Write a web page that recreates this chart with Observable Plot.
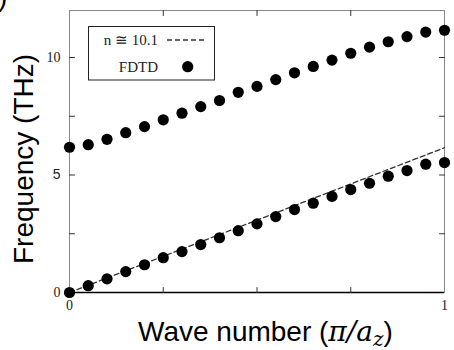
<!DOCTYPE html>
<html><head><meta charset="utf-8">
<script src="https://cdn.jsdelivr.net/npm/d3@7"></script>
<script src="https://cdn.jsdelivr.net/npm/@observablehq/plot@0.6"></script>
<style>body{margin:0;background:#fff}#chart{width:454px;height:350px}</style>
</head><body><div id="chart"></div>
<script>
// Wave number (π/a_z)
const waveNumber = [0, 0.05, 0.10, 0.15, 0.20, 0.25, 0.30, 0.35, 0.40, 0.45, 0.50,
                    0.55, 0.60, 0.65, 0.70, 0.75, 0.80, 0.85, 0.90, 0.95, 1.00];
// FDTD frequencies (THz)
const upperBand = [6.18, 6.29, 6.52, 6.80, 7.06, 7.35, 7.63, 7.91, 8.17, 8.52, 8.77,
                   9.06, 9.35, 9.62, 9.89, 10.18, 10.44, 10.67, 10.89, 11.08, 11.16];
const lowerBand = [0.00, 0.29, 0.58, 0.89, 1.18, 1.48, 1.74, 2.04, 2.33, 2.63, 2.92,
                   3.23, 3.53, 3.80, 4.09, 4.38, 4.65, 4.95, 5.19, 5.46, 5.53];
// light line n ≅ 10.1
const fitWave = [0, 1];
const fitFreq = [0, 6.16];
// ticks
const xTickValues = [0.25, 0.5, 0.75];
const yTickValues = [2.5, 5, 7.5, 10];
const xTickLabels = [0, 1];
const yTickLabelsSerif = [0, 10];
const yTickLabelsSans = [5];
const legendLabels = ["n \u2245 10.1", "FDTD"];

const points = waveNumber.flatMap((k, i) => [{k, f: upperBand[i]}, {k, f: lowerBand[i]}]);
const fit = fitWave.map((k, i) => ({k, f: fitFreq[i]}));
const tickShape = {draw(ctx, l) { ctx.moveTo(0, 0); ctx.lineTo(0, -l); }};
const tickOpts = {length: 5, anchor: "start", shape: tickShape, stroke: "#333", strokeWidth: 1};
const fmt = d => String(d);

const svg = Plot.plot({
  width: 454, height: 350,
  marginLeft: 69, marginRight: 10, marginTop: 10, marginBottom: 58,
  x: {domain: [0, 1]},
  y: {domain: [0, 12]},
  style: {background: "#fff", overflow: "visible"},
  marks: [
    Plot.frame({stroke: "#888", strokeWidth: 1}),
    Plot.ruleY([0], {stroke: "#000", strokeWidth: 1.6}),
    Plot.vector(xTickValues, {x: d => d, frameAnchor: "bottom", rotate: 0, ...tickOpts}),
    Plot.vector(xTickValues, {x: d => d, frameAnchor: "top", rotate: 180, ...tickOpts}),
    Plot.vector(yTickValues, {y: d => d, frameAnchor: "left", rotate: 90, ...tickOpts}),
    Plot.vector(yTickValues, {y: d => d, frameAnchor: "right", rotate: -90, ...tickOpts}),
    Plot.axisX(xTickLabels, {tickSize: 0, tickPadding: 8, tickFormat: fmt, fontFamily: "Liberation Serif", fontSize: 14, fill: "#222", label: null}),
    Plot.axisY(yTickLabelsSerif, {tickSize: 0, tickPadding: 9, tickFormat: fmt, fontFamily: "Liberation Serif", fontSize: 14, fill: "#222", label: null}),
    Plot.axisY(yTickLabelsSans, {tickSize: 0, tickPadding: 9, tickFormat: fmt, fontFamily: "Liberation Sans", fontSize: 14, fill: "#222", label: null}),
    Plot.line(fit, {x: "k", y: "f", stroke: "#333", strokeWidth: 1.3, strokeDasharray: "5,3"}),
    Plot.dot(points, {x: "k", y: "f", r: 5.6, fill: "#000", stroke: "none"})
  ]
});

const s = d3.select(svg);
// clipped panel label
s.append("text").attr("x", -2).attr("y", 6).attr("text-anchor", "start").attr("font-family", "Liberation Sans").attr("font-size", 28).attr("fill", "#000").text(")");
// y title
s.append("text").attr("transform", "translate(33,159) rotate(-90)").attr("text-anchor", "middle")
  .attr("font-family", "Liberation Sans").attr("font-size", 28).attr("fill", "#000").text("Frequency (THz)");
// x title
const xt = s.append("text").attr("x", 138).attr("y", 341).attr("text-anchor", "start").attr("font-family", "Liberation Sans").attr("font-size", 28).attr("fill", "#000");
xt.append("tspan").text("Wave number (");
xt.append("tspan").attr("font-family", "DejaVu Serif").attr("font-style", "italic").attr("font-size", 28).text("\u03C0/a");
xt.append("tspan").attr("font-family", "DejaVu Serif").attr("font-style", "italic").attr("font-size", 20).attr("dy", 5).text("z");
xt.append("tspan").attr("dy", -5).text(")");
// legend
const lg = s.append("g");
lg.append("rect").attr("x", 88.5).attr("y", 26.5).attr("width", 126).attr("height", 53.5).attr("fill", "#fff").attr("stroke", "#222").attr("stroke-width", 1);
lg.append("text").attr("x", 158).attr("y", 45).attr("text-anchor", "end").attr("font-family", "Liberation Serif").attr("font-size", 15).attr("fill", "#222").text(legendLabels[0]);
lg.append("text").attr("x", 158).attr("y", 71.5).attr("text-anchor", "end").attr("font-family", "Liberation Serif").attr("font-size", 15).attr("fill", "#222").text(legendLabels[1]);
lg.append("line").attr("x1", 167).attr("x2", 207).attr("y1", 40).attr("y2", 40).attr("stroke", "#333").attr("stroke-width", 1.3).attr("stroke-dasharray", "5,3");
lg.append("circle").attr("cx", 187.7).attr("cy", 66.7).attr("r", 5.6).attr("fill", "#000");

document.getElementById("chart").append(svg);
</script>
</body></html>
